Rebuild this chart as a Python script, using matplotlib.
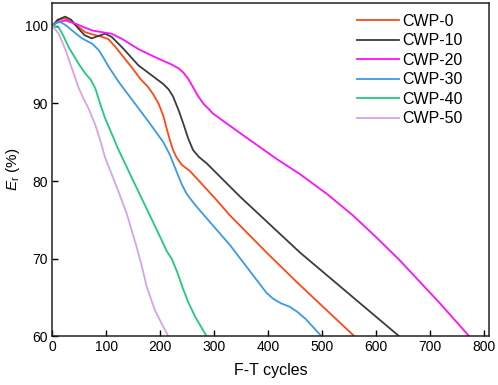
import matplotlib
matplotlib.use('Agg')
import matplotlib.pyplot as plt

plt.rcParams['font.family'] = ['Liberation Sans', 'DejaVu Sans']
plt.rcParams['mathtext.fontset'] = 'custom'
plt.rcParams['mathtext.it'] = 'Liberation Sans:italic'
plt.rcParams['mathtext.rm'] = 'Liberation Sans'

# F-T cycles vs relative dynamic modulus
cwp0_x = [0, 10, 22, 36, 50, 61, 75, 92, 104, 117, 132, 148, 163, 178, 187, 197, 206, 212, 218, 224, 230, 240, 255, 275, 304, 329, 400, 459, 560]
cwp0_y = [100, 100.7, 101.0, 100.5, 99.8, 99.2, 98.9, 98.6, 98.3, 97.3, 96.0, 94.6, 93.2, 92.1, 91.2, 90.0, 88.4, 86.8, 85.3, 84.0, 83.1, 82.1, 81.3, 79.8, 77.6, 75.6, 70.6, 66.6, 60]

cwp10_x = [0, 10, 24, 35, 48, 60, 73, 85, 98, 110, 130, 160, 185, 206, 216, 224, 235, 243, 252, 261, 272, 286, 348, 459, 643]
cwp10_y = [100, 100.8, 101.2, 100.8, 99.7, 98.8, 98.4, 98.7, 99.0, 98.6, 97.2, 94.9, 93.6, 92.5, 91.8, 90.9, 89.0, 87.4, 85.5, 84.0, 83.1, 82.3, 78.0, 70.8, 60]

cwp20_x = [0, 10, 25, 43, 60, 75, 92, 110, 130, 160, 190, 222, 235, 243, 252, 261, 270, 280, 290, 298, 350, 415, 459, 510, 557, 600, 644, 718, 773]
cwp20_y = [100, 100.5, 100.7, 100.3, 99.8, 99.4, 99.2, 99.0, 98.3, 97.0, 96.0, 95.0, 94.5, 94.0, 93.2, 92.1, 91.0, 90.0, 89.3, 88.7, 86.1, 82.9, 80.9, 78.3, 75.6, 72.8, 69.8, 64.3, 60]

cwp30_x = [0, 7, 15, 25, 37, 55, 74, 86, 95, 104, 125, 150, 178, 206, 218, 230, 240, 248, 255, 270, 330, 397, 410, 425, 440, 455, 470, 499]
cwp30_y = [100, 100.4, 100.5, 100.1, 99.4, 98.4, 97.7, 96.9, 95.9, 94.8, 92.6, 90.3, 87.7, 85.0, 83.4, 81.3, 79.6, 78.5, 77.8, 76.5, 71.7, 65.6, 64.8, 64.2, 63.8, 63.1, 62.2, 60]

cwp40_x = [0, 12, 20, 30, 43, 50, 61, 72, 80, 90, 98, 123, 160, 200, 212, 222, 232, 242, 252, 265, 286]
cwp40_y = [100, 99.8, 98.8, 97.3, 95.8, 95.0, 93.9, 93.0, 91.9, 89.7, 88.1, 84.0, 78.6, 72.8, 71.0, 69.9, 68.2, 66.2, 64.4, 62.5, 60]

cwp50_x = [0, 12, 24, 30, 37, 49, 58, 67, 80, 90, 98, 110, 123, 138, 156, 165, 175, 190, 200, 215]
cwp50_y = [100, 99.0, 97.0, 95.8, 94.4, 92.0, 90.6, 89.4, 87.2, 85.0, 83.0, 80.9, 78.6, 75.8, 71.6, 69.3, 66.4, 63.4, 62.0, 60]

series = [
    ('CWP-0', cwp0_x, cwp0_y, '#ff4a12'),
    ('CWP-10', cwp10_x, cwp10_y, '#3c3c3c'),
    ('CWP-20', cwp20_x, cwp20_y, '#ff10ff'),
    ('CWP-30', cwp30_x, cwp30_y, '#3b9ae8'),
    ('CWP-40', cwp40_x, cwp40_y, '#1fcc7a'),
    ('CWP-50', cwp50_x, cwp50_y, '#d6a2ea'),
]

fig = plt.figure(figsize=(4.98, 3.85), dpi=100)
ax = fig.add_axes([0.105, 0.127, 0.877, 0.866])

for name, xs, ys, col in series:
    ax.plot(xs, ys, color=col, lw=1.3, label=name, solid_joinstyle='round')

ax.set_xlim(0, 810)
ax.set_ylim(60, 103)
ax.set_xticks(range(0, 801, 100))
ax.set_yticks([60, 70, 80, 90, 100])
ax.tick_params(direction='in', length=4, width=1, labelsize=10, pad=3)
for s in ax.spines.values():
    s.set_linewidth(1.1)
    s.set_color('#222222')

ax.set_xlabel('F-T cycles', fontsize=11.5, labelpad=6)
ax.set_ylabel(r'$E_\mathrm{r}$ (%)', fontsize=11, labelpad=2)

ax.legend(loc='upper right', frameon=False, fontsize=11.5, handlelength=2.6,
          handletextpad=0.2, labelspacing=0.28, borderaxespad=0.3,
          bbox_to_anchor=(0.965, 1.0))

fig.savefig('out.png', dpi=100)
